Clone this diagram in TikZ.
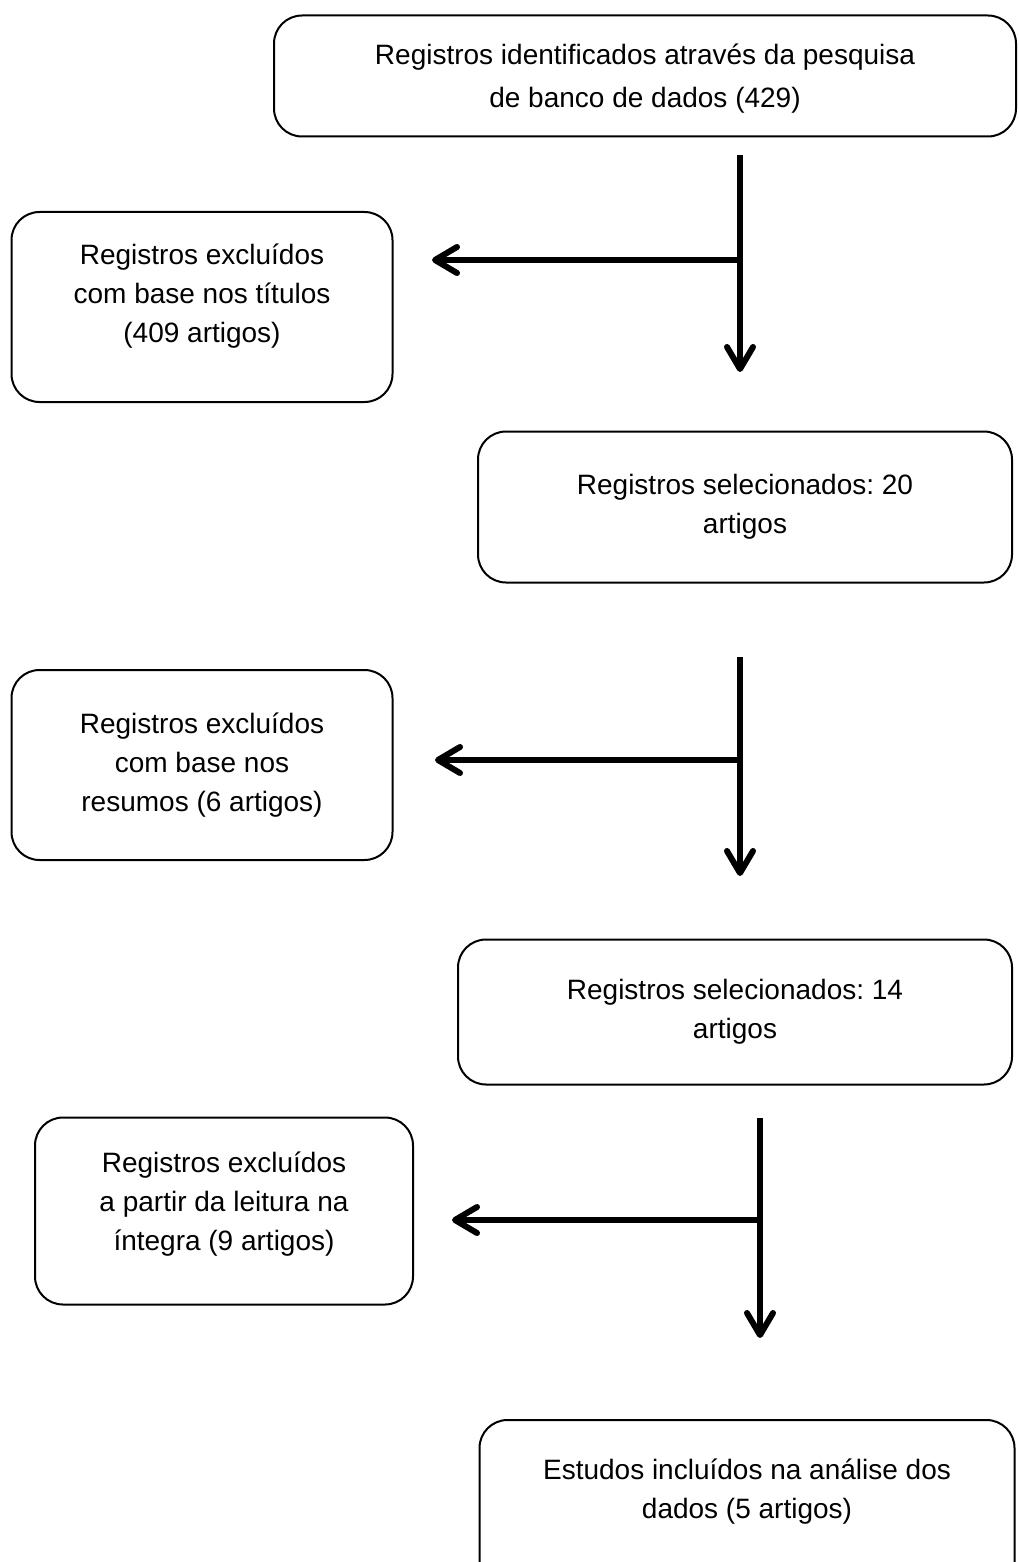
\documentclass[tikz,border=0pt]{standalone}
\usepackage{fontspec}
\setmainfont{Liberation Sans}
\usepackage{tikz}
\usetikzlibrary{arrows.meta,positioning}
\frenchspacing
\tikzset{%
	block/.style    = {draw, rectangle, rounded corners=28pt, line width=2pt, inner sep=0pt, align=center, font=\fontsize{28}{39}\selectfont},
	waypoint/.style = {coordinate},
	arrow/.style    = {line width=6pt, -{Straight Barb[length=22pt, width=26pt, round]}},
}
\begin{document}
\begin{tikzpicture}[x=1pt,y=-1pt]
	\useasboundingbox (0,0) rectangle (1018,1562);
	\node [block,minimum width=742pt,minimum height=121pt,text depth=0pt,font=\fontsize{28}{43}\selectfont] (ident) at (645,76) {Registros identificados através da pesquisa\\de banco de dados (429)};
	\node [block,minimum width=381pt,minimum height=190pt,text depth=27pt] (excl1) at (202,307) {Registros excluídos\\com base nos títulos\\(409 artigos)};
	\node [block,minimum width=534pt,minimum height=151pt] (sel1) at (745,507) {Registros selecionados: 20\\artigos};
	\node [block,minimum width=381pt,minimum height=190pt] (excl2) at (202,765) {Registros excluídos\\com base nos\\resumos (6 artigos)};
	\node [block,minimum width=554pt,minimum height=145pt] (sel2) at (735,1012) {Registros selecionados: 14\\artigos};
	\node [block,minimum width=378pt,minimum height=187pt,text depth=19pt] (excl3) at (224,1211) {Registros excluídos\\a partir da leitura na\\íntegra (9 artigos)};
	\node [block,minimum width=535pt,minimum height=170pt,text depth=33pt] (incl) at (747,1505) {Estudos incluídos na análise dos\\dados (5 artigos)};

	\node [waypoint] (a1) at (740,155) {};
	\node [waypoint] (b1) at (740,260) {};
	\node [waypoint] (c1) at (740,372) {};
	\node [waypoint] (d1) at (432,260) {};
	\node [waypoint] (a2) at (740,657) {};
	\node [waypoint] (b2) at (740,760) {};
	\node [waypoint] (c2) at (740,876) {};
	\node [waypoint] (d2) at (435,760) {};
	\node [waypoint] (a3) at (760,1118) {};
	\node [waypoint] (b3) at (760,1220) {};
	\node [waypoint] (c3) at (760,1338) {};
	\node [waypoint] (d3) at (452,1220) {};

	\draw[arrow] (a1) -- (c1);
	\draw[arrow] (b1) -- (d1);
	\draw[arrow] (a2) -- (c2);
	\draw[arrow] (b2) -- (d2);
	\draw[arrow] (a3) -- (c3);
	\draw[arrow] (b3) -- (d3);
\end{tikzpicture}
\end{document}
